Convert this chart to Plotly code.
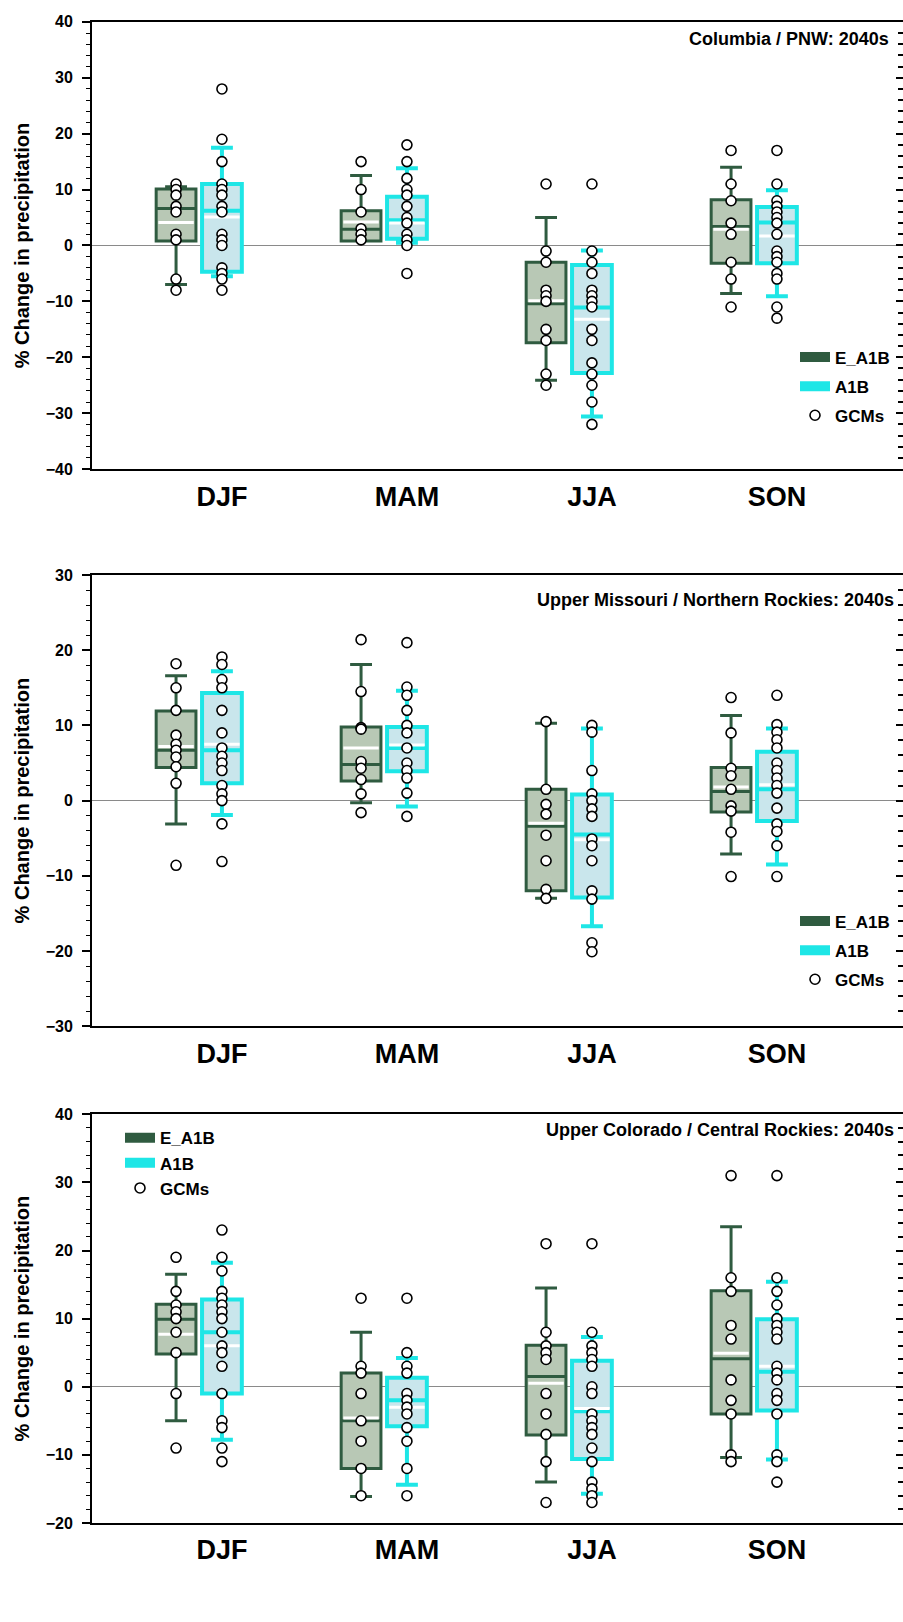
import plotly.graph_objects as go

seasons = ["DJF", "MAM", "JJA", "SON"]
panel_titles = ["Columbia / PNW: 2040s",
                "Upper Missouri / Northern Rockies: 2040s",
                "Upper Colorado / Central Rockies: 2040s"]
y_ranges = [[-40, 40], [-30, 30], [-20, 40]]

# ---------------- Panel 1: Columbia / PNW ----------------
p1_e_gcm = [[11, 10, 9, 7, 6, 2, 1, -6, -8],
            [15, 10, 6, 3, 2, 1],
            [11, -1, -3, -8, -9, -10, -15, -17, -23, -25],
            [17, 11, 8, 4, 2, -3, -6, -11]]
p1_a_gcm = [[28, 19, 15, 11, 10, 9, 7, 6, 2, 1, 0, -4, -5, -6, -8],
            [18, 15, 12, 10, 9, 7, 5, 4, 2, 1, 0, -5],
            [11, -1, -3, -5, -8, -9, -10, -11, -15, -17, -21, -23, -25, -28, -32],
            [17, 11, 8, 7, 6, 5, 4, 2, -1, -2, -3, -5, -6, -11, -13]]
p1_e_q1 = [0.8, 0.8, -17.4, -3.2]
p1_e_med = [6.6, 2.9, -10.4, 3.4]
p1_e_q3 = [10.1, 6.2, -3.0, 8.2]
p1_e_lo = [-7.0, 0.8, -24.1, -8.6]
p1_e_hi = [10.5, 12.5, 5.0, 14.0]
p1_e_mean = [4.1, 4.2, -9.9, 2.9]
p1_a_q1 = [-4.7, 1.2, -22.8, -3.2]
p1_a_med = [6.2, 4.5, -11.1, 4.1]
p1_a_q3 = [11.0, 8.7, -3.5, 6.9]
p1_a_lo = [-5.5, 0.5, -30.6, -9.1]
p1_a_hi = [17.5, 13.8, -0.9, 9.9]
p1_a_mean = [5.1, 4.0, -13.2, 1.7]

# ---------------- Panel 2: Upper Missouri / Northern Rockies ----------------
p2_e_gcm = [[18.2, 15, 12, 8.7, 7.5, 6.7, 5.8, 4.5, 2.3, -8.6],
            [21.4, 14.5, 9.7, 9.5, 5.2, 4.3, 2.8, 0.9, -1.6],
            [10.5, 1.5, -0.5, -1.8, -4.6, -8.0, -11.8, -13.0],
            [13.7, 9.0, 4.3, 3.3, 1.5, -0.7, -1.4, -4.2, -10.1]]
p2_a_gcm = [[19.1, 18.1, 16.1, 15, 12, 9, 7, 5.9, 5, 4, 2, 0.9, 0, -3.1, -8.1],
            [21, 15.1, 14, 12, 10, 9, 7, 5, 4, 3, 1, -2.1],
            [10, 9.1, 4, 0.9, 0, -1.1, -2.1, -5.1, -6, -8, -12, -13.1, -18.9, -20.1],
            [14, 10.1, 9.1, 8.1, 7, 5, 4, 3, 2, 1, -1, -3.1, -4.1, -6, -10.1]]
p2_e_q1 = [4.4, 2.6, -12.0, -1.5]
p2_e_med = [6.7, 4.8, -3.4, 1.2]
p2_e_q3 = [11.9, 9.8, 1.5, 4.4]
p2_e_lo = [-3.1, -0.3, -13.0, -7.1]
p2_e_hi = [16.6, 18.1, 10.3, 11.3]
p2_e_mean = [7.2, 7.0, -3.0, 1.8]
p2_a_q1 = [2.3, 3.9, -12.9, -2.7]
p2_a_med = [6.7, 7.0, -4.5, 1.5]
p2_a_q3 = [14.3, 9.8, 0.8, 6.5]
p2_a_lo = [-1.9, -0.8, -16.7, -8.5]
p2_a_hi = [17.2, 14.6, 9.6, 9.6]
p2_a_mean = [7.5, 7.4, -5.2, 2.1]

# ---------------- Panel 3: Upper Colorado / Central Rockies ----------------
p3_e_gcm = [[19, 14, 12, 11, 10, 8, 5, -1, -9],
            [13, 3, 2, -1, -5, -8, -12, -16],
            [21, 8, 6, 5, 4, -1, -4, -7, -11, -17],
            [31, 16, 14, 9, 7, 1, -2, -4, -10, -11]]
p3_a_gcm = [[23, 19, 17, 14, 13, 12, 11, 10, 8, 6, 5, 3, -1, -5, -6, -9, -11],
            [13, 5, 3, 2, -1, -2, -3, -4, -6, -8, -12, -16],
            [21, 8, 6, 5, 4, 3, 0, -1, -4, -5, -6, -7, -9, -11, -14, -15, -16, -17],
            [31, 16, 14, 12, 10, 9, 8, 7, 3, 2, 1, -1, -2, -4, -10, -11, -14]]
p3_e_q1 = [4.8, -12.0, -7.1, -4.0]
p3_e_med = [9.9, -5.0, 1.5, 4.1]
p3_e_q3 = [12.1, 2.0, 6.1, 14.1]
p3_e_lo = [-5.0, -16.1, -14.0, -10.4]
p3_e_hi = [16.5, 8.0, 14.5, 23.5]
p3_e_mean = [7.7, -4.6, 0.5, 4.9]
p3_a_q1 = [-1.0, -5.8, -10.6, -3.5]
p3_a_med = [8.0, -2.0, -3.6, 2.2]
p3_a_q3 = [12.8, 1.3, 3.8, 9.9]
p3_a_lo = [-7.8, -14.4, -15.7, -10.7]
p3_a_hi = [18.2, 4.2, 7.3, 15.4]
p3_a_mean = [6.0, -3.0, -3.2, 3.0]

panels = [
    dict(e=(p1_e_gcm, p1_e_q1, p1_e_med, p1_e_q3, p1_e_lo, p1_e_hi, p1_e_mean),
         a=(p1_a_gcm, p1_a_q1, p1_a_med, p1_a_q3, p1_a_lo, p1_a_hi, p1_a_mean)),
    dict(e=(p2_e_gcm, p2_e_q1, p2_e_med, p2_e_q3, p2_e_lo, p2_e_hi, p2_e_mean),
         a=(p2_a_gcm, p2_a_q1, p2_a_med, p2_a_q3, p2_a_lo, p2_a_hi, p2_a_mean)),
    dict(e=(p3_e_gcm, p3_e_q1, p3_e_med, p3_e_q3, p3_e_lo, p3_e_hi, p3_e_mean),
         a=(p3_a_gcm, p3_a_q1, p3_a_med, p3_a_q3, p3_a_lo, p3_a_hi, p3_a_mean)),
]

# ---------------- styling ----------------
W, H = 903, 1622
FONT = "Liberation Sans, Arial, sans-serif"
E_LINE, E_FILL = "#2f5b40", "#b8c8b5"
A_LINE, A_FILL = "#1ee6e6", "#c9e6ec"
OFF = 0.124
BOXW = 0.215
x_left_px, x_right_px = 92, 903
px_per_unit = 185.0
x_min = -(199 - x_left_px) / px_per_unit
x_max = x_min + (x_right_px - x_left_px) / px_per_unit
panel_px = [(14, 466), (573, 1029), (1118, 1531)]

legend_pos = [dict(x=795 / W, y=1 - 335 / H, gap=4),
              dict(x=795 / W, y=1 - 905 / H, gap=4),
              dict(x=120 / W, y=1 - 1124 / H, gap=0)]
title_pos = [(0.985, 0.962), (0.991, 0.945), (0.991, 0.961)]

fig = go.Figure()
layout = dict()

for p, panel in enumerate(panels):
    n = p + 1
    xa = "x" if n == 1 else f"x{n}"
    ya = "y" if n == 1 else f"y{n}"
    leg = "legend" if n == 1 else f"legend{n}"
    for key, offset, lc, fc, lw, name in [("e", -OFF, E_LINE, E_FILL, 3, "E_A1B"),
                                           ("a", OFF, A_LINE, A_FILL, 4, "A1B")]:
        gcm, q1, med, q3, lo, hi, mean = panel[key]
        pos = [i + offset for i in range(len(seasons))]
        fig.add_trace(go.Box(
            x=pos, q1=q1, median=med, q3=q3, lowerfence=lo, upperfence=hi,
            width=BOXW, whiskerwidth=0.55, boxpoints=False,
            line=dict(color=lc, width=lw), fillcolor=fc,
            name=name, showlegend=False, xaxis=xa, yaxis=ya, hoverinfo="skip"))
        # white mean lines
        mx, my = [], []
        for xp, m in zip(pos, mean):
            hw = BOXW / 2 - 0.012
            mx += [xp - hw, xp + hw, None]
            my += [m, m, None]
        fig.add_trace(go.Scatter(x=mx, y=my, mode="lines",
                                 line=dict(color="white", width=3),
                                 showlegend=False, xaxis=xa, yaxis=ya, hoverinfo="skip"))
    # legend entries (swatches)
    fig.add_trace(go.Scatter(x=[None], y=[None], mode="lines", name="E_A1B",
                             line=dict(color=E_LINE, width=10), legend=leg,
                             legendgroup=f"p{n}e", xaxis=xa, yaxis=ya))
    fig.add_trace(go.Scatter(x=[None], y=[None], mode="lines", name="A1B",
                             line=dict(color=A_LINE, width=10), legend=leg,
                             legendgroup=f"p{n}a", xaxis=xa, yaxis=ya))
    # GCM points
    for key, offset, show in [("e", -OFF, True), ("a", OFF, False)]:
        gcm = panel[key][0]
        px_, py_ = [], []
        for i, vals in enumerate(gcm):
            px_ += [i + offset] * len(vals)
            py_ += vals
        fig.add_trace(go.Scatter(
            x=px_, y=py_, mode="markers", name="GCMs",
            marker=dict(symbol="circle", size=10, color="white",
                        line=dict(color="black", width=1.6)),
            showlegend=show, legend=leg, legendgroup=f"p{n}g",
            xaxis=xa, yaxis=ya, hoverinfo="skip"))
    # right-side tick axis
    yr = f"y{n + 3}"
    fig.add_trace(go.Scatter(x=[None], y=[None], xaxis=xa, yaxis=yr,
                             showlegend=False, hoverinfo="skip"))

    top_px, bot_px = panel_px[p]
    ydom = [1 - bot_px / H, 1 - top_px / H]
    xdom = [x_left_px / W, x_right_px / W]
    xkey = "xaxis" if n == 1 else f"xaxis{n}"
    ykey = "yaxis" if n == 1 else f"yaxis{n}"
    layout[xkey] = dict(
        domain=xdom, anchor=ya, range=[x_min, x_max],
        tickmode="array", tickvals=[i + OFF for i in range(len(seasons))],
        ticktext=seasons, ticks="", ticklabelstandoff=2,
        tickfont=dict(family=FONT, size=27, color="black", weight="bold"),
        showline=True, linecolor="black", linewidth=2, mirror=True,
        showgrid=False, zeroline=False)
    dt = 10
    layout[ykey] = dict(
        domain=ydom, anchor=xa, range=y_ranges[p], dtick=dt, tick0=0,
        ticks="outside", ticklen=8, tickwidth=1.5, tickcolor="black",
        minor=dict(dtick=2, ticks="outside", ticklen=4, tickwidth=1.2,
                   tickcolor="black", showgrid=False),
        ticklabelstandoff=6,
        tickfont=dict(family=FONT, size=16, color="black", weight="bold"),
        showline=True, linecolor="black", linewidth=2,
        showgrid=False, zeroline=True, zerolinecolor="#8a8a8a", zerolinewidth=1.3,
        title=dict(text="% Change in precipitation", standoff=11,
                   font=dict(family=FONT, size=20, color="black", weight="bold")))
    layout[f"yaxis{n + 3}"] = dict(
        overlaying=ya, side="right", anchor=xa, range=y_ranges[p], dtick=dt, tick0=0,
        ticks="inside", ticklen=7, tickwidth=2, tickcolor="black",
        minor=dict(dtick=2, ticks="inside", ticklen=5, tickwidth=1.5,
                   tickcolor="black", showgrid=False),
        showticklabels=False, showline=False, showgrid=False, zeroline=False)
    layout[leg] = dict(
        x=legend_pos[p]["x"], y=legend_pos[p]["y"], xanchor="left", yanchor="top",
        bgcolor="rgba(0,0,0,0)", borderwidth=0, traceorder="grouped",
        tracegroupgap=legend_pos[p]["gap"],
        font=dict(family=FONT, size=17, color="black", weight="bold"))

annotations = []
for p, t in enumerate(panel_titles):
    n = p + 1
    xa = "x" if n == 1 else f"x{n}"
    ya = "y" if n == 1 else f"y{n}"
    annotations.append(dict(
        text=t, xref=f"{xa} domain", yref=f"{ya} domain",
        x=title_pos[p][0], y=title_pos[p][1], xanchor="right", yanchor="middle",
        showarrow=False,
        font=dict(family=FONT, size=18, color="black", weight="bold")))

fig.update_layout(
    width=W, height=H, margin=dict(l=0, r=0, t=0, b=0),
    paper_bgcolor="white", plot_bgcolor="white",
    boxmode="overlay", annotations=annotations, **layout)

fig.write_html("out.html")
